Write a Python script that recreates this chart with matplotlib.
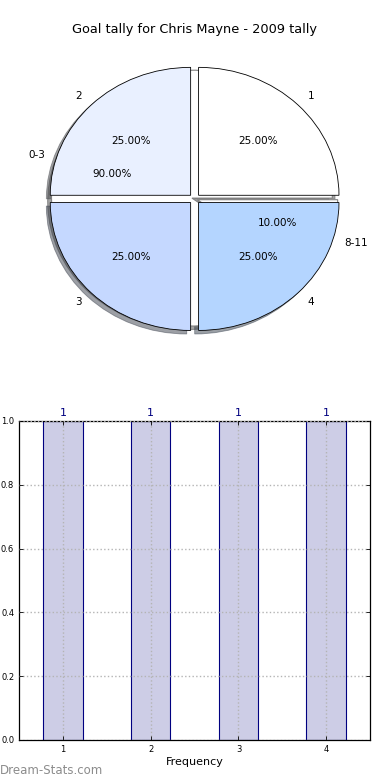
import matplotlib
matplotlib.use('Agg')
import matplotlib.pyplot as plt

plt.rcParams['font.family'] = 'DejaVu Sans'

# data
rounds = ['1', '2', '3', '4']
tally = [1, 1, 1, 1]
groups = ['0-3', '8-11']
group_share = [90, 10]
round_colors = ['#ffffff', '#e9f0ff', '#c5d8ff', '#b4d5ff']

fig = plt.figure(figsize=(3.9, 7.8), dpi=100)

# pie chart (old style: stretched, exploded, with shadow)
ax1 = fig.add_axes([0.049, 0.54, 0.9, 0.41])
ax1.pie(group_share, labels=groups, autopct='%1.2f%%', startangle=0,
        explode=[0.02, 0.02], shadow=True, labeldistance=1.1, pctdistance=0.6,
        colors=['#ffffff', '#ffffff'],
        wedgeprops=dict(edgecolor='#808080', linewidth=0.8),
        textprops=dict(fontsize=7.5))
ax1.pie(tally, labels=rounds, autopct='%1.2f%%', startangle=0,
        explode=[0.04] * 4, shadow=True, labeldistance=1.1, pctdistance=0.6,
        colors=round_colors,
        wedgeprops=dict(edgecolor='black', linewidth=0.6),
        textprops=dict(fontsize=7.5))
ax1.set_aspect('auto')
ax1.set_xlim(-1.25, 1.25)
ax1.set_ylim(-1.25, 1.25)
fig.text(0.5, 1 - 30 / 780, 'Goal tally for Chris Mayne - 2009 tally',
         ha='center', va='center', fontsize=9.3)

# bar chart
ax2 = fig.add_axes([0.049, 0.0513, 0.9, 0.409])
x = [int(r) for r in rounds]
ax2.bar(x, tally, width=0.45, color='#cdcde6', edgecolor='#000080', linewidth=0.8)
for xi, v in zip(x, tally):
    ax2.text(xi, v + 0.01, str(v), ha='center', va='bottom', color='#000080', fontsize=8)
ax2.set_xlim(0.5, 4.5)
ax2.set_ylim(0, 1)
ax2.set_xticks(x)
ax2.set_yticks([0.0, 0.2, 0.4, 0.6, 0.8, 1.0])
ax2.set_yticklabels(['0.0', '0.2', '0.4', '0.6', '0.8', '1.0'])
ax2.tick_params(direction='in', labelsize=6, top=True, right=True, length=3, width=0.6)
ax2.grid(True, linestyle=':', color='#b4b4b4', linewidth=1)
ax2.set_axisbelow(False)
ax2.set_xlabel('Frequency', fontsize=8, labelpad=2)
for s in ax2.spines.values():
    s.set_linewidth(0.9)

fig.text(0.0, 1 - 770 / 780, 'Dream-Stats.com', ha='left', va='center',
         fontsize=8.5, color='#8c8c8c')

fig.savefig('out.png', dpi=100)
